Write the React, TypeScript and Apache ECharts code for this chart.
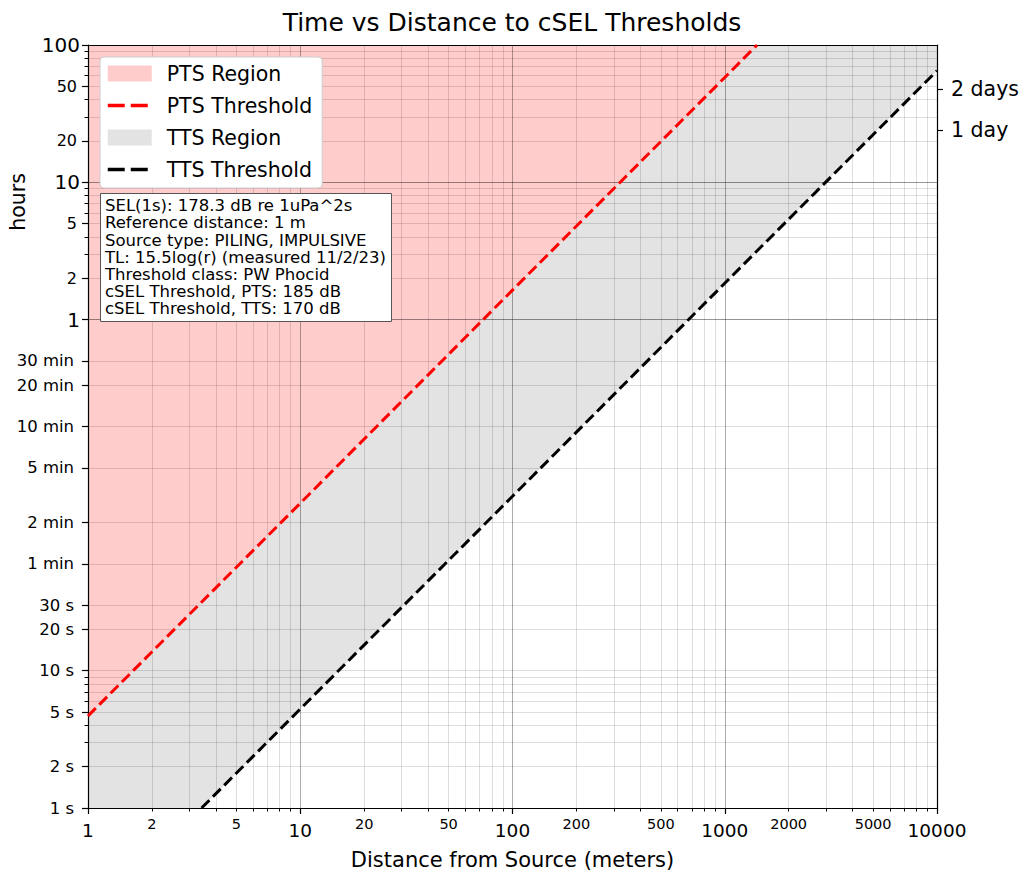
import React, { useEffect, useRef } from "react";
import * as echarts from "echarts";

// ---- tick values / labels ----
const distanceLabelValues = [1, 2, 5, 10, 20, 50, 100, 200, 500, 1000, 2000, 5000, 10000];
const distanceMajorValues = [1, 10, 100, 1000, 10000];
const distanceMinorValues = [
  2, 3, 4, 5, 6, 7, 8, 9, 20, 30, 40, 50, 60, 70, 80, 90, 200, 300, 400, 500, 600, 700, 800, 900,
  2000, 3000, 4000, 5000, 6000, 7000, 8000, 9000,
];

const timeLabelHours = [
  100, 50, 20, 10, 5, 2, 1, 0.5, 0.333333, 0.166667, 0.0833333, 0.0333333, 0.0166667,
  0.00833333, 0.00555556, 0.00277778, 0.00138889, 0.000555556, 0.000277778,
];
const timeLabelTexts = [
  "100", "50", "20", "10", "5", "2", "1", "30 min", "20 min", "10 min", "5 min", "2 min", "1 min",
  "30 s", "20 s", "10 s", "5 s", "2 s", "1 s",
];
const timeMajorHours = [1, 10, 100];
const timeMinorHours = [
  90, 80, 70, 60, 40, 30, 9, 8, 7, 6, 4, 3, 0.0025, 0.00222222, 0.00194444, 0.00166667,
  0.00111111, 0.000833333,
];
const dayHours = [24, 48];
const dayLabels = ["1 day", "2 days"];

// ---- series values (distance in meters, time in hours) ----
const ptsDistance = [1, 10, 100, 1000, 1420];
const ptsHours = [0.0013, 0.046, 1.64, 58, 100];
const ttsDistance = [3.43, 10, 100, 1000, 10000];
const ttsHours = [0.000277778, 0.00146, 0.0517, 1.84, 65];

const infoLines = [
  "SEL(1s): 178.3 dB re 1uPa^2s",
  "Reference distance: 1 m",
  "Source type: PILING, IMPULSIVE",
  "TL: 15.5log(r) (measured 11/2/23)",
  "Threshold class: PW Phocid",
  "cSEL Threshold, PTS: 185 dB",
  "cSEL Threshold, TTS: 170 dB",
];

const FONT = "DejaVu Sans";
const L = (v: number) => Math.log10(v);

function nearestIndex(arr: number[], v: number) {
  let best = 0;
  let bd = Infinity;
  arr.forEach((a, i) => {
    const d = Math.abs(L(a) - v);
    if (d < bd) {
      bd = d;
      best = i;
    }
  });
  return best;
}

export default function App() {
  const ref = useRef<HTMLDivElement>(null);

  useEffect(() => {
    document.body.style.margin = "0";
    if (!ref.current) return;
    const chart = echarts.init(ref.current, undefined, { renderer: "svg" });

    const xMin = L(distanceMajorValues[0]);
    const xMax = L(distanceMajorValues[distanceMajorValues.length - 1]);
    const yMin = L(timeLabelHours[timeLabelHours.length - 1]);
    const yMax = L(timeLabelHours[0]);

    const light = "rgba(0,0,0,0.13)";
    const dark = "rgba(0,0,0,0.33)";
    const black = "#000";

    const ptsLine = ptsDistance.map((d, i) => [L(d), L(ptsHours[i])]);
    const ttsLine = ttsDistance.map((d, i) => [L(d), L(ttsHours[i])]);
    const ptsRegion = [...ptsLine, [xMax, yMax]];
    const ttsRegion = [[xMin, yMin], ...ttsLine];

    const baseX = { type: "value", min: xMin, max: xMax, gridIndex: 0, z: 3 };
    const baseY = { type: "value", min: yMin, max: yMax, gridIndex: 0, z: 3 };

    const option: any = {
      animation: false,
      backgroundColor: "#fff",
      textStyle: { fontFamily: FONT },
      title: [
        {
          text: "Time vs Distance to cSEL Thresholds",
          left: "center",
          top: 5,
          textStyle: { fontFamily: FONT, fontSize: 25, fontWeight: "normal", color: black },
        },
        {
          text: infoLines.join("\n"),
          left: 100,
          top: 193,
          padding: [4, 6, 4, 5],
          backgroundColor: "#fff",
          borderColor: "#555",
          borderWidth: 1,
          textStyle: {
            fontFamily: FONT,
            fontSize: 16.5,
            lineHeight: 17.2,
            fontWeight: "normal",
            color: black,
          },
        },
      ],
      grid: { left: 88, right: 87, top: 45, bottom: 66, containLabel: false },
      legend: {
        orient: "vertical",
        left: 100,
        top: 57,
        padding: [6, 10, 8, 6],
        itemWidth: 44,
        itemHeight: 16,
        itemGap: 11,
        backgroundColor: "#fff",
        borderColor: "#ccc",
        borderWidth: 1,
        borderRadius: 4,
        textStyle: { fontFamily: FONT, fontSize: 20.5, color: black, padding: [0, 0, 0, 10] },
        data: [
          { name: "PTS Region", icon: "rect", itemStyle: { color: "#ffcccc", borderWidth: 0 } },
          {
            name: "PTS Threshold",
            itemStyle: { opacity: 0 },
            lineStyle: { color: "#ff0000", width: 3.5, type: [17, 6] },
          },
          { name: "TTS Region", icon: "rect", itemStyle: { color: "#e3e3e3", borderWidth: 0 } },
          {
            name: "TTS Threshold",
            itemStyle: { opacity: 0 },
            lineStyle: { color: "#000", width: 3.5, type: [17, 6] },
          },
        ],
      },
      graphic: [
        {
          type: "text",
          x: 18,
          y: 202,
          rotation: Math.PI / 2,
          style: {
            text: "hours",
            fontFamily: FONT,
            fontSize: 20.5,
            fill: black,
            align: "center",
            verticalAlign: "middle",
          },
        },
      ],
      xAxis: [
        {
          ...baseX,
          position: "bottom",
          name: "Distance from Source (meters)",
          nameLocation: "middle",
          nameGap: 41,
          nameTextStyle: { fontFamily: FONT, fontSize: 21, color: black },
          axisLine: { show: true, onZero: false, lineStyle: { color: black, width: 1.2 } },
          axisTick: {
            show: true,
            length: 6,
            customValues: distanceMajorValues.map(L),
            lineStyle: { color: black, width: 1.2 },
          },
          axisLabel: {
            show: true,
            margin: 9,
            customValues: distanceLabelValues.map(L),
            formatter: (v: number) => {
              const i = nearestIndex(distanceLabelValues, v);
              const val = distanceLabelValues[i];
              const isMajor = distanceMajorValues.indexOf(val) >= 0;
              return isMajor ? `{maj|${val}}` : `{min|${val}}`;
            },
            rich: {
              maj: { fontFamily: FONT, fontSize: 18.5, lineHeight: 27, color: black },
              min: { fontFamily: FONT, fontSize: 14.5, lineHeight: 14, color: black },
            },
          },
          splitLine: { show: true, lineStyle: { color: dark, width: 1 } },
        },
        {
          ...baseX,
          position: "bottom",
          axisLine: { show: false, onZero: false },
          axisTick: {
            show: true,
            length: 3.5,
            customValues: distanceMinorValues.map(L),
            lineStyle: { color: black, width: 1 },
          },
          axisLabel: { show: false },
          splitLine: { show: true, lineStyle: { color: light, width: 1 } },
        },
        {
          ...baseX,
          position: "top",
          axisLine: { show: true, onZero: false, lineStyle: { color: black, width: 1.2 } },
          axisTick: { show: false },
          axisLabel: { show: false },
          splitLine: { show: false },
        },
      ],
      yAxis: [
        {
          ...baseY,
          position: "left",
          axisLine: { show: true, onZero: false, lineStyle: { color: black, width: 1.2 } },
          axisTick: {
            show: true,
            length: 6,
            customValues: timeLabelHours.map(L),
            lineStyle: { color: black, width: 1.2 },
          },
          axisLabel: {
            show: true,
            margin: 8,
            customValues: timeLabelHours.map(L),
            formatter: (v: number) => {
              const i = nearestIndex(timeLabelHours, v);
              const t = timeLabelTexts[i];
              if (timeMajorHours.indexOf(timeLabelHours[i]) >= 0) return `{maj|${t}}`;
              if (/[a-z]/.test(t)) return `{unit|${t}}`;
              return `{num|${t}}`;
            },
            rich: {
              maj: { fontFamily: FONT, fontSize: 20, color: black },
              num: { fontFamily: FONT, fontSize: 16, color: black, padding: [0, 3, 0, 0] },
              unit: { fontFamily: FONT, fontSize: 16.5, color: black, padding: [0, 6, 0, 0] },
            },
          },
          splitLine: { show: true, lineStyle: { color: light, width: 1 } },
        },
        {
          ...baseY,
          position: "left",
          axisLine: { show: false, onZero: false },
          axisTick: {
            show: true,
            length: 3.5,
            customValues: timeMinorHours.map(L),
            lineStyle: { color: black, width: 1 },
          },
          axisLabel: { show: false },
          splitLine: { show: true, lineStyle: { color: light, width: 1 } },
        },
        {
          ...baseY,
          position: "left",
          axisLine: { show: false, onZero: false },
          axisTick: { show: false, customValues: timeMajorHours.map(L) },
          axisLabel: { show: false },
          splitLine: { show: true, lineStyle: { color: dark, width: 1 } },
        },
        {
          ...baseY,
          position: "right",
          axisLine: { show: true, onZero: false, lineStyle: { color: black, width: 1.2 } },
          axisTick: {
            show: true,
            length: 6,
            customValues: dayHours.map(L),
            lineStyle: { color: black, width: 1.2 },
          },
          axisLabel: {
            show: true,
            margin: 14,
            customValues: dayHours.map(L),
            fontFamily: FONT,
            fontSize: 20.5,
            color: black,
            formatter: (v: number) => dayLabels[nearestIndex(dayHours, v)],
          },
          splitLine: { show: false },
        },
      ],
      series: [
        {
          name: "TTS Region",
          type: "line",
          xAxisIndex: 0,
          yAxisIndex: 0,
          data: ttsRegion,
          symbol: "none",
          showSymbol: false,
          silent: true,
          z: 1,
          itemStyle: { color: "#e3e3e3" },
          lineStyle: { width: 0, opacity: 0 },
          areaStyle: { color: "#e3e3e3", opacity: 1, origin: "end" },
        },
        {
          name: "PTS Region",
          type: "line",
          xAxisIndex: 0,
          yAxisIndex: 0,
          data: ptsRegion,
          symbol: "none",
          showSymbol: false,
          silent: true,
          z: 1,
          itemStyle: { color: "#ffcccc" },
          lineStyle: { width: 0, opacity: 0 },
          areaStyle: { color: "#ffcccc", opacity: 1, origin: "end" },
        },
        {
          name: "PTS Threshold",
          type: "line",
          xAxisIndex: 0,
          yAxisIndex: 0,
          data: ptsLine,
          symbol: "none",
          showSymbol: false,
          z: 5,
          itemStyle: { color: "#ff0000" },
          lineStyle: { color: "#ff0000", width: 3, type: [11, 5] },
        },
        {
          name: "TTS Threshold",
          type: "line",
          xAxisIndex: 0,
          yAxisIndex: 0,
          data: ttsLine,
          symbol: "none",
          showSymbol: false,
          z: 5,
          itemStyle: { color: "#000" },
          lineStyle: { color: "#000", width: 3, type: [11, 5] },
        },
      ],
    };

    chart.setOption(option);
    return () => chart.dispose();
  }, []);

  return <div ref={ref} style={{ width: 1024, height: 875 }} />;
}
